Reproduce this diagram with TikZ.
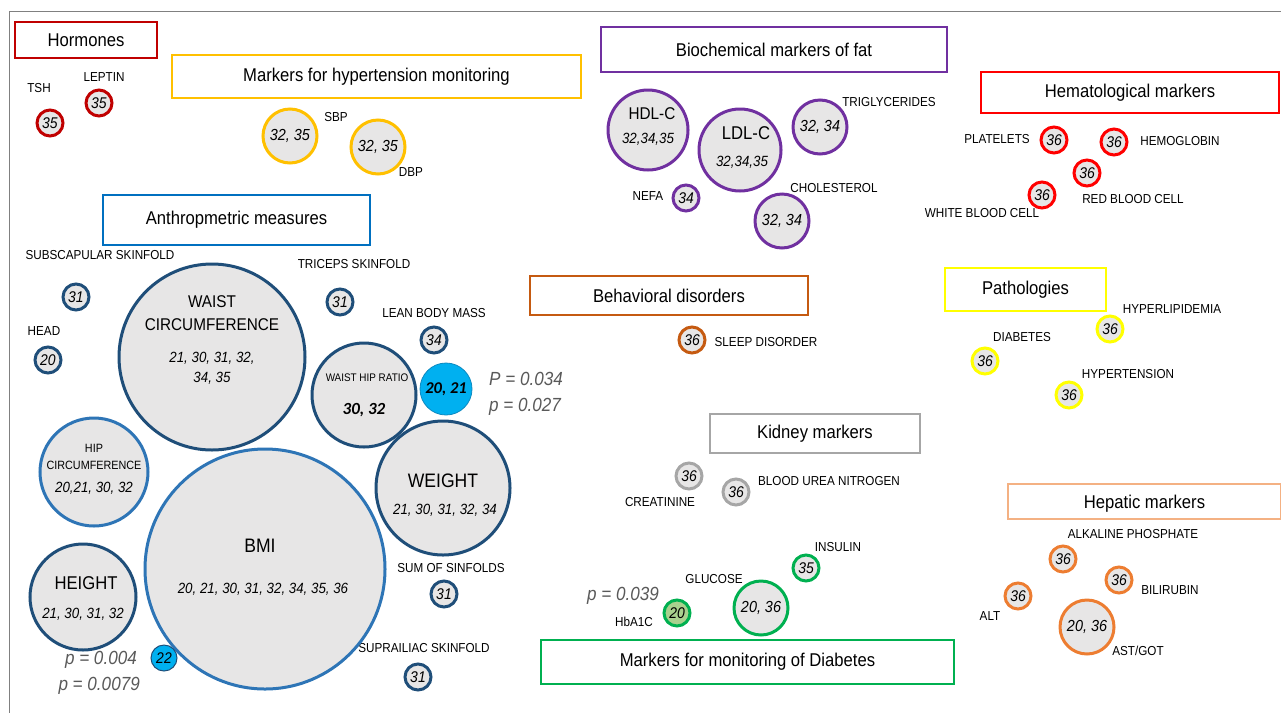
\documentclass[tikz,border=0pt]{standalone}
\usepackage{fontspec}
\setmainfont{Liberation Sans}[FakeStretch=0.9]
\newfontfamily\wide{Carlito}
\definecolor{bubfill}{HTML}{E7E6E6}
\definecolor{hormred}{HTML}{C00000}
\definecolor{hypgold}{HTML}{FFC000}
\definecolor{anthblue}{HTML}{0070C0}
\definecolor{navy}{HTML}{1F4E79}
\definecolor{midblue}{HTML}{2E75B6}
\definecolor{skyfill}{HTML}{00B0F0}
\definecolor{fatpurple}{HTML}{7030A0}
\definecolor{hemred}{HTML}{FF0000}
\definecolor{behbrown}{HTML}{C55A11}
\definecolor{pathyel}{HTML}{FFFF00}
\definecolor{kidgray}{HTML}{A6A6A6}
\definecolor{heplight}{HTML}{F4B183}
\definecolor{hepor}{HTML}{ED7D31}
\definecolor{diabgreen}{HTML}{00B050}
\definecolor{hbafill}{HTML}{A9D18E}
\definecolor{pgray}{HTML}{595959}
\begin{document}
\begin{tikzpicture}[x=1pt,y=-1pt,
    bubble/.style={circle,draw=#1,line width=3pt,fill=bubfill,inner sep=0pt},
    dot/.style={bubble=#1,minimum size=26pt,font=\fontsize{15.5}{17}\selectfont\itshape},
    mid/.style={bubble=#1,minimum size=54pt,font=\fontsize{16}{18}\selectfont\itshape},
    titlebox/.style={draw=#1,line width=1.8pt,font=\fontsize{18.5}{20}\selectfont},
    lbl/.style={font=\fontsize{13}{15}\selectfont,inner sep=0pt},
    num/.style={font=\fontsize{14.8}{17}\selectfont\itshape,inner sep=0pt},
    pval/.style={text=pgray,font=\fontsize{19}{21}\selectfont\itshape,inner sep=0pt}]
\useasboundingbox (0,0) rectangle (1281,713);
\draw[gray,line width=1pt] (1281,11) -- (9,11) -- (9,713);

% Title boxes
\node[titlebox=hormred,minimum width=142pt,minimum height=36pt] (hormones) at (86,40) {Hormones};
\node[titlebox=hypgold,minimum width=409pt,minimum height=43pt] (hyper) at (376.5,76.5) {Markers for hypertension monitoring};
\node[titlebox=anthblue,minimum width=267pt,minimum height=50pt] (anthro) at (236.5,220) {Anthropmetric measures};
\node[titlebox=fatpurple,minimum width=346pt,minimum height=45pt] (fat) at (774,49.5) {Biochemical markers of fat};
\node[titlebox=hemred,minimum width=298pt,minimum height=41pt] (hemato) at (1130,92.5) {Hematological markers};
\node[titlebox=behbrown,minimum width=278pt,minimum height=39pt] (behav) at (669,295.5) {Behavioral disorders};
\node[titlebox=pathyel,minimum width=161pt,minimum height=43pt] (patho) at (1025.5,289.5) {Pathologies};
\node[titlebox=kidgray,minimum width=210pt,minimum height=39pt] (kidney) at (815,433.5) {Kidney markers};
\node[titlebox=heplight,minimum width=273pt,minimum height=35pt,text depth=-5pt] (hepatic) at (1144.5,501.5) {Hepatic markers};
\node[titlebox=diabgreen,minimum width=413pt,minimum height=44pt] (diab) at (747.5,662) {Markers for monitoring of Diabetes};

% Hormones
\node[dot=hormred] (tsh) at (50,123) {35};
\node[lbl] (tshl) at (39,88) {TSH};
\node[dot=hormred] (leptin) at (99,103) {35};
\node[lbl] (leptinl) at (104,77) {LEPTIN};

% Hypertension
\node[mid=hypgold] (sbp) at (290,136) {32, 35};
\node[lbl] (sbpl) at (336,117) {SBP};
\node[mid=hypgold] (dbp) at (378,147) {32, 35};
\node[lbl] (dbpl) at (411,172) {DBP};

% Anthropometric measures
\node[dot=navy] (subscap) at (76,297) {31};
\node[lbl] (subscapl) at (100,255) {SUBSCAPULAR SKINFOLD};
\node[dot=navy] (head) at (48,360) {20};
\node[lbl] (headl) at (44,331) {HEAD};
\node[dot=navy] (triceps) at (340,302) {31};
\node[lbl] (tricepsl) at (354,264) {TRICEPS SKINFOLD};
\node[dot=navy] (lean) at (434,340) {34};
\node[lbl] (leanl) at (434,313) {LEAN BODY MASS};
\node[dot=navy] (sumsk) at (444,594) {31};
\node[lbl] (sumskl) at (451,568) {SUM OF SINFOLDS};
\node[dot=navy] (supra) at (418,677) {31};
\node[lbl] (supral) at (424,648) {SUPRAILIAC SKINFOLD};

\node[bubble=navy,minimum size=186pt] (waist) at (212,357) {};
\node[font=\fontsize{17}{23}\selectfont,align=center] (waistt) at (212,313) {WAIST\\CIRCUMFERENCE};
\node[num,align=center] (waistn) at (212,368) {21, 30, 31, 32,\\[3pt]34, 35};

\node[bubble=navy,minimum size=104pt] (whr) at (364,395) {};
\node[lbl,font=\fontsize{11}{13}\selectfont] (whrt) at (367,378) {WAIST HIP RATIO};
\node[inner sep=0pt,font=\wide\fontsize{17}{19}\selectfont\bfseries\itshape] (whrn) at (364,410) {30, 32};
\node[bubble=navy!40!skyfill,fill=skyfill,line width=0.8pt,minimum size=52pt,font=\wide\fontsize{16.5}{18}\selectfont\bfseries\itshape] (whrsig) at (446,389) {20, 21};
\node[pval,anchor=west] (p1) at (489,379) {P = 0.034};
\node[pval,anchor=west] (p2) at (489,407) {p = 0.027};

\node[bubble=midblue,minimum size=108pt] (hip) at (94,472) {};
\node[lbl,font=\fontsize{12}{17}\selectfont,align=center] (hipt) at (94,457) {HIP\\CIRCUMFERENCE};
\node[num] (hipn) at (94,488) {20,21, 30, 32};

\node[bubble=midblue,minimum size=240pt] (bmi) at (265,569) {};
\node[font=\fontsize{19.5}{22}\selectfont,inner sep=0pt] (bmit) at (260,546) {BMI};
\node[num] (bmin) at (263,589) {20, 21, 30, 31, 32, 34, 35, 36};

\node[bubble=navy,minimum size=134pt] (weight) at (443,488) {};
\node[font=\fontsize{19.5}{22}\selectfont,inner sep=0pt] (weightt) at (443,481) {WEIGHT};
\node[num] (weightn) at (445,510) {21, 30, 31, 32, 34};

\node[bubble=navy,minimum size=106pt] (height) at (83,597) {};
\node[font=\fontsize{18.5}{21}\selectfont,inner sep=0pt] (heightt) at (86,583) {HEIGHT};
\node[num] (heightn) at (83,614) {21, 30, 31, 32};

\node[dot=midblue,fill=skyfill,line width=1pt,draw=navy] (heightsig) at (164,658) {22};
\node[pval,anchor=east] (p3) at (137,660) {p = 0.004};
\node[pval,anchor=east] (p4) at (140,686) {p = 0.0079};

% Biochemical markers of fat
\node[bubble=fatpurple,minimum size=80pt] (hdl) at (648,130) {};
\node[font=\fontsize{17}{20}\selectfont,inner sep=0pt] (hdlt) at (652,114) {HDL-C};
\node[num] (hdln) at (648,139) {32,34,35};
\node[bubble=fatpurple,minimum size=82pt] (ldl) at (740,150) {};
\node[font=\fontsize{18.5}{22}\selectfont,inner sep=0pt] (ldlt) at (746,133) {LDL-C};
\node[num] (ldln) at (742,162) {32,34,35};
\node[mid=fatpurple] (trig) at (820,127) {32, 34};
\node[lbl] (trigl) at (889,102) {TRIGLYCERIDES};
\node[dot=fatpurple] (nefa) at (686,198) {34};
\node[lbl] (nefal) at (648,196) {NEFA};
\node[mid=fatpurple] (chol) at (782,221) {32, 34};
\node[lbl] (choll) at (834,188) {CHOLESTEROL};

% Hematological markers
\node[dot=hemred] (plat) at (1054,140) {36};
\node[lbl] (platl) at (997,139) {PLATELETS};
\node[dot=hemred] (hemo) at (1114,142) {36};
\node[lbl] (hemol) at (1180,141) {HEMOGLOBIN};
\node[dot=hemred] (rbc) at (1087,173) {36};
\node[lbl] (rbcl) at (1133,199) {RED BLOOD CELL};
\node[dot=hemred] (wbc) at (1042,195) {36};
\node[lbl] (wbcl) at (982,213) {WHITE BLOOD CELL};

% Behavioral disorders
\node[dot=behbrown] (sleep) at (692,340) {36};
\node[lbl] (sleepl) at (766,342) {SLEEP DISORDER};

% Pathologies
\node[dot=pathyel] (hlip) at (1110,329) {36};
\node[lbl] (hlipl) at (1172,309) {HYPERLIPIDEMIA};
\node[dot=pathyel] (dia) at (985,361) {36};
\node[lbl] (dial) at (1022,337) {DIABETES};
\node[dot=pathyel] (htn) at (1069,395) {36};
\node[lbl] (htnl) at (1128,374) {HYPERTENSION};

% Kidney markers
\node[dot=kidgray] (creat) at (689,476) {36};
\node[lbl] (creatl) at (660,502) {CREATININE};
\node[dot=kidgray] (bun) at (736,492) {36};
\node[lbl] (bunl) at (829,481) {BLOOD UREA NITROGEN};

% Hepatic markers
\node[dot=hepor] (alp) at (1063,559) {36};
\node[lbl] (alpl) at (1133,534) {ALKALINE PHOSPHATE};
\node[dot=hepor] (bili) at (1119,580) {36};
\node[lbl] (bilil) at (1170,590) {BILIRUBIN};
\node[dot=hepor] (alt) at (1018,596) {36};
\node[lbl] (altl) at (990,616) {ALT};
\node[mid=hepor] (ast) at (1087,627) {20, 36};
\node[lbl] (astl) at (1138,651) {AST/GOT};

% Diabetes
\node[dot=diabgreen] (ins) at (806,568) {35};
\node[lbl] (insl) at (838,547) {INSULIN};
\node[mid=diabgreen] (glu) at (761,608) {20, 36};
\node[lbl] (glul) at (714,579) {GLUCOSE};
\node[dot=diabgreen,fill=hbafill] (hba) at (677,613) {20};
\node[lbl] (hbal) at (634,622) {HbA1C};
\node[pval,anchor=east] (p5) at (659,596) {p = 0.039};
\end{tikzpicture}
\end{document}
